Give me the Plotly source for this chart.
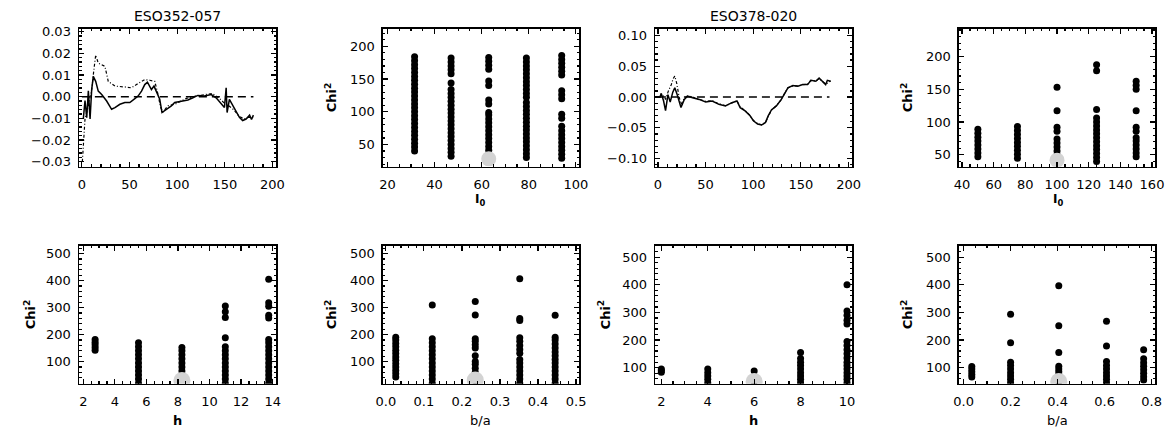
import plotly.graph_objects as go

W, H = 1176, 434

# ---------------- data ----------------
# ESO352-057 residual curves
e352_solid_x = [1.5, 3.3, 5.1, 6.8, 8.6, 10.3, 12, 14.5, 17.2, 20.8, 26, 31.2, 34.7, 39.9, 45.1, 50.3, 55.6, 59,
                62.6, 66, 68.8, 73, 75.7, 79.3, 81.7, 84.1, 88.7, 93.9, 97.4, 104.4, 111.3, 116.5, 121.7, 128.7,
                135.7, 140.9, 146.2, 149.6, 151.4, 152.4, 154.8, 158.3, 161.8, 165.3, 168.7, 172.3, 176, 178, 180]
e352_solid_y = [-0.0103, -0.0018, -0.0097, 0.0027, -0.0103, 0.0033, 0.0094, 0.0071, 0.0026, 0.001, -0.002, -0.0058,
                -0.005, -0.0035, -0.0027, -0.0027, -0.0009, 0.0003, 0.0026, 0.0056, 0.0067, 0.0033, 0.0049, 0.001,
                -0.0012, -0.0073, -0.006, -0.0042, -0.0027, -0.002, -0.0015, -0.0005, 0.0006, 0.0003, 0.001, -0.0005,
                -0.0035, -0.005, 0.0041, -0.0073, -0.0012, -0.0042, -0.0065, -0.0095, -0.011, -0.0103, -0.0085,
                -0.0105, -0.0085]
e352_dd_x = [0.5, 3.3, 6.8, 10.3, 12.5, 14.5, 17.2, 24.2, 27.7, 34.7, 45.1, 52, 57.3, 62.6, 66, 71.2, 76.5, 79.9,
             82.7, 85.1, 90.4, 97.4, 104.4, 108.8, 119.3, 129.7, 136.7, 143.6, 148.9, 154.1, 159.3, 164.6, 169.8,
             175, 180]
e352_dd_y = [-0.030, -0.0103, -0.0042, 0.0033, 0.012, 0.0192, 0.0155, 0.014, 0.0071, 0.0049, 0.0045, 0.0041, 0.0056,
             0.0071, 0.0079, 0.0076, 0.0071, 0.001, -0.005, -0.007, -0.0042, -0.0035, -0.002, -0.0009, 0.0003, 0.001,
             0.0015, -0.0005, -0.0027, -0.0042, -0.006, -0.0088, -0.0103, -0.0095, -0.0095]

# ESO378-020 residual curves
e378_solid_x = [1.9, 3.5, 5.9, 8, 10.5, 12.9, 15.6, 17.7, 19.8, 21.8, 24.2, 27.7, 31.2, 36.3, 43.3, 50.1, 57, 64,
                70.8, 77.7, 82.9, 86.3, 91.5, 96.7, 100.2, 104.6, 108.8, 112.9, 115.7, 119.1, 124.3, 129.5, 132.9,
                136.4, 141.6, 146.8, 151.9, 157.1, 160.5, 165.7, 169.1, 172.7, 176, 177.8, 181.2]
e378_solid_y = [-0.001, 0.006, -0.006, -0.022, 0.004, -0.008, 0.008, 0.015, 0.006, -0.004, -0.017, -0.004, 0.0016,
                -0.0011, -0.0038, -0.008, -0.0064, -0.0118, -0.0144, -0.0091, -0.0064, -0.0171, -0.0224, -0.0304,
                -0.0384, -0.0438, -0.0454, -0.0411, -0.0304, -0.0208, -0.0144, -0.0038, 0.0058, 0.0149, 0.0186,
                0.0176, 0.0202, 0.0202, 0.0272, 0.0256, 0.0309, 0.0256, 0.0202, 0.0272, 0.0256]
e378_dd_x = [1.9, 5, 8, 11, 14, 16, 17.7, 19.8, 22, 24.2, 27.7, 31.2, 36.3, 43.3, 50.1, 57, 64, 70.8, 77.7, 82.9,
             86.3, 91.5, 96.7, 100.2, 104.6, 108.8, 112.9, 115.7, 119.1, 124.3, 129.5, 132.9, 136.4, 141.6, 146.8,
             151.9, 157.1, 160.5, 165.7, 169.1, 172.7, 176, 181.2]
e378_dd_y = [0.0, 0.004, -0.004, 0.01, 0.02, 0.03, 0.034, 0.022, 0.002, -0.012, -0.002, 0.002, 0.0, -0.003, -0.007,
             -0.006, -0.011, -0.014, -0.009, -0.006, -0.016, -0.022, -0.03, -0.038, -0.043, -0.045, -0.041, -0.031,
             -0.021, -0.014, -0.004, 0.006, 0.015, 0.018, 0.018, 0.02, 0.021, 0.027, 0.026, 0.03, 0.026, 0.021, 0.026]

zero_x = [0, 180]
zero_y = [0, 0]

# Chi^2 scans: parameter values (columns) and chi^2 samples per column
e352_I0_vals = [31.5, 47, 63, 79, 94]
e352_I0_chi = [
    [40, 46, 52, 58, 64, 70, 76, 82, 88, 94, 100, 106, 112, 118, 124, 130, 136, 142, 148, 154, 160, 166, 172, 178, 184],
    [32, 38, 44, 50, 56, 62, 68, 74, 80, 86, 92, 98, 104, 110, 116, 122, 128, 134, 144, 158, 164, 170, 176, 182],
    [29, 35, 41, 47, 53, 59, 65, 71, 77, 83, 89, 95, 99, 112, 118, 140, 147, 165, 171, 177, 183],
    [30, 36, 42, 48, 54, 60, 66, 72, 78, 84, 90, 96, 102, 108, 114, 122, 128, 134, 140, 146, 152, 158, 164, 170, 176, 182],
    [29, 35, 41, 47, 53, 59, 65, 71, 78, 90, 96, 120, 126, 132, 156, 162, 168, 174, 180, 186],
]
e352_I0_best = (63, 28)

e378_I0_vals = [50, 75, 100, 125, 150]
e378_I0_chi = [
    [47, 53, 59, 65, 71, 77, 83, 89],
    [45, 51, 57, 63, 69, 75, 81, 87, 93],
    [44, 50, 56, 62, 68, 74, 86, 92, 117, 153],
    [40, 46, 52, 58, 64, 70, 76, 82, 88, 94, 100, 106, 119, 178, 187],
    [47, 53, 59, 65, 71, 76, 86, 92, 117, 150, 156, 162],
]
e378_I0_best = (100, 42)

e352_h_vals = [2.75, 5.5, 8.25, 11.0, 13.75]
e352_h_chi = [
    [142, 152, 162, 172, 182],
    [20, 35, 50, 65, 80, 95, 110, 125, 140, 155, 170],
    [35, 50, 65, 80, 95, 110, 125, 140, 152],
    [20, 35, 50, 65, 80, 95, 110, 125, 140, 155, 188, 263, 285, 306],
    [20, 35, 50, 65, 80, 95, 110, 125, 140, 155, 170, 182, 262, 272, 305, 318, 405],
]
e352_h_best = (8.25, 30)

e352_ba_vals = [0.026, 0.122, 0.235, 0.352, 0.445]
e352_ba_chi = [
    [43, 55, 67, 80, 92, 105, 117, 130, 142, 155, 167, 180, 190],
    [20, 35, 50, 65, 80, 95, 110, 125, 140, 155, 170, 185, 310],
    [30, 45, 60, 75, 90, 100, 122, 150, 162, 175, 185, 273, 323],
    [20, 35, 50, 65, 80, 95, 108, 131, 145, 160, 175, 188, 252, 260, 407],
    [20, 35, 50, 65, 80, 95, 108, 122, 135, 150, 165, 180, 190, 272],
]
e352_ba_best = (0.235, 32)

e378_h_vals = [2, 4, 6, 8, 10]
e378_h_chi = [
    [83, 90, 95],
    [45, 58, 70, 82, 95],
    [50, 88],
    [45, 58, 70, 82, 95, 108, 120, 133, 155],
    [45, 58, 70, 82, 95, 108, 120, 135, 150, 165, 180, 195, 258, 272, 290, 305, 400],
]
e378_h_best = (6, 50)

e378_ba_vals = [0.035, 0.2, 0.405, 0.608, 0.766]
e378_ba_chi = [
    [66, 75, 85, 95, 104],
    [45, 58, 70, 82, 95, 108, 120, 190, 293],
    [50, 62, 75, 85, 95, 105, 155, 252, 397],
    [45, 58, 70, 82, 95, 108, 122, 178, 268],
    [55, 67, 80, 92, 105, 118, 132, 165],
]
e378_ba_best = (0.405, 50)

titles = ["ESO352-057", "ESO378-020"]

# ---------------- layout helpers ----------------
FONT = "DejaVu Sans"
cols = [(73, 273), (381, 580), (657, 857), (965, 1164)]
rows = [(25, 165), (245, 385)]


def px(x):
    return x / W


def py(y):
    return 1 - y / H


fig = go.Figure()

panels = [
    # (col, row, xrange, xdtick, xminor, xfmt, yrange, ydtick, yminor, yfmt)
    (0, 0, [-3, 204], 50, 10, None, [-0.0323, 0.0314], 0.01, 0.002, ".2f"),
    (1, 0, [18, 101.4], 20, 5, None, [16, 227], 50, 10, None),
    (2, 0, [-3, 204], 50, 10, None, [-0.113, 0.111], 0.05, 0.01, ".2f"),
    (3, 0, [38, 162], 20, 5, None, [32, 242], 50, 10, None),
    (0, 1, [1.73, 14.23], 2, 0.5, None, [18, 530], 100, 20, None),
    (1, 1, [-0.008, 0.508], 0.1, 0.02, ".1f", [18, 530], 100, 20, None),
    (2, 1, [1.73, 10.23], 2, 0.5, None, [42, 542], 100, 20, None),
    (3, 1, [-0.02, 0.815], 0.2, 0.05, ".1f", [42, 542], 100, 20, None),
]

layout = dict(
    width=W, height=H, margin=dict(l=0, r=0, t=0, b=0),
    paper_bgcolor="white", plot_bgcolor="white", showlegend=False,
    font=dict(family=FONT, size=13, color="black"),
)

for i, (c, r, xr, xd, xm, xf, yr, yd, ym, yf) in enumerate(panels):
    n = "" if i == 0 else str(i + 1)
    common = dict(
        showline=True, linecolor="black", linewidth=1.5, mirror="allticks",
        ticks="inside", ticklen=5, tickwidth=1.2, tickcolor="black",
        showgrid=False, zeroline=False, tickfont=dict(family=FONT, size=13, color="black"),
    )
    layout["xaxis" + n] = dict(
        domain=[px(cols[c][0]), px(cols[c][1])], anchor="y" + n, range=xr, dtick=xd, tick0=0,
        minor=dict(ticks="inside", ticklen=2.5, dtick=xm, tick0=0, tickcolor="black", showgrid=False),
        ticklabelstandoff=5, **common)
    if xf:
        layout["xaxis" + n]["tickformat"] = xf
    layout["yaxis" + n] = dict(
        domain=[py(rows[r][1]), py(rows[r][0])], anchor="x" + n, range=yr, dtick=yd, tick0=0,
        minor=dict(ticks="inside", ticklen=2.5, dtick=ym, tick0=0, tickcolor="black", showgrid=False),
        ticklabelstandoff=4, **common)
    if yf:
        layout["yaxis" + n]["tickformat"] = yf


def ax(i):
    n = "" if i == 1 else str(i)
    return "x" + n, "y" + n


# ---- curve panels ----
for i, (sx, sy, dx, dy) in zip([1, 3], [(e352_solid_x, e352_solid_y, e352_dd_x, e352_dd_y),
                                     (e378_solid_x, e378_solid_y, e378_dd_x, e378_dd_y)]):
    xa, ya = ax(i)
    fig.add_trace(go.Scatter(x=zero_x, y=zero_y, mode="lines", xaxis=xa, yaxis=ya,
                             line=dict(color="black", width=1.5, dash="8px,5px")))
    fig.add_trace(go.Scatter(x=dx, y=dy, mode="lines", xaxis=xa, yaxis=ya,
                             line=dict(color="black", width=1.2, dash="3px,2px,1px,2px")))
    fig.add_trace(go.Scatter(x=sx, y=sy, mode="lines", xaxis=xa, yaxis=ya,
                             line=dict(color="black", width=1.5)))

# ---- chi^2 scatter panels ----
scans = [
    (2, e352_I0_vals, e352_I0_chi, e352_I0_best, 15),
    (4, e378_I0_vals, e378_I0_chi, e378_I0_best, 15),
    (5, e352_h_vals, e352_h_chi, e352_h_best, 17),
    (6, e352_ba_vals, e352_ba_chi, e352_ba_best, 17),
    (7, e378_h_vals, e378_h_chi, e378_h_best, 17),
    (8, e378_ba_vals, e378_ba_chi, e378_ba_best, 17),
]
for i, vals, chis, best, bsize in scans:
    xa, ya = ax(i)
    xs, ys = [], []
    for v, ch in zip(vals, chis):
        xs += [v] * len(ch)
        ys += ch
    fig.add_trace(go.Scatter(x=xs, y=ys, mode="markers", xaxis=xa, yaxis=ya,
                             marker=dict(color="black", size=7, line=dict(width=0))))
    fig.add_trace(go.Scatter(x=[best[0]], y=[best[1]], mode="markers", xaxis=xa, yaxis=ya,
                             marker=dict(color="#d3d3d3", size=bsize, line=dict(width=0))))

# ---- text ----
ann = []


def text(x, y, s, size=13, angle=0, bold=False):
    ann.append(dict(x=px(x), y=py(y), xref="paper", yref="paper", text=("<b>%s</b>" % s) if bold else s,
                    showarrow=False, textangle=angle, xanchor="center", yanchor="middle",
                    font=dict(family=FONT, size=size, color="black")))


text(173, 12, titles[0], size=14)
text(757, 12, titles[1], size=14)
for xc, yc in [(328, 95), (912, 95), (23, 315), (328, 315), (605, 315), (912, 315)]:
    text(xc, yc, "Chi<sup>2</sup>", size=13, angle=-90, bold=True)
text(480, 199, "I<sub>0</sub>", size=12, bold=True)
text(1065, 199, "I<sub>0</sub>", size=12, bold=True)
text(173, 422, "h", size=13, bold=True)
text(480, 422, "b/a", size=13)
text(757, 422, "h", size=13, bold=True)
text(1065, 422, "b/a", size=13)

layout["annotations"] = ann
fig.update_layout(**layout)
fig.write_html("out.html", config={"displayModeBar": False, "staticPlot": True},
               post_script="document.body.style.margin='0px';")
